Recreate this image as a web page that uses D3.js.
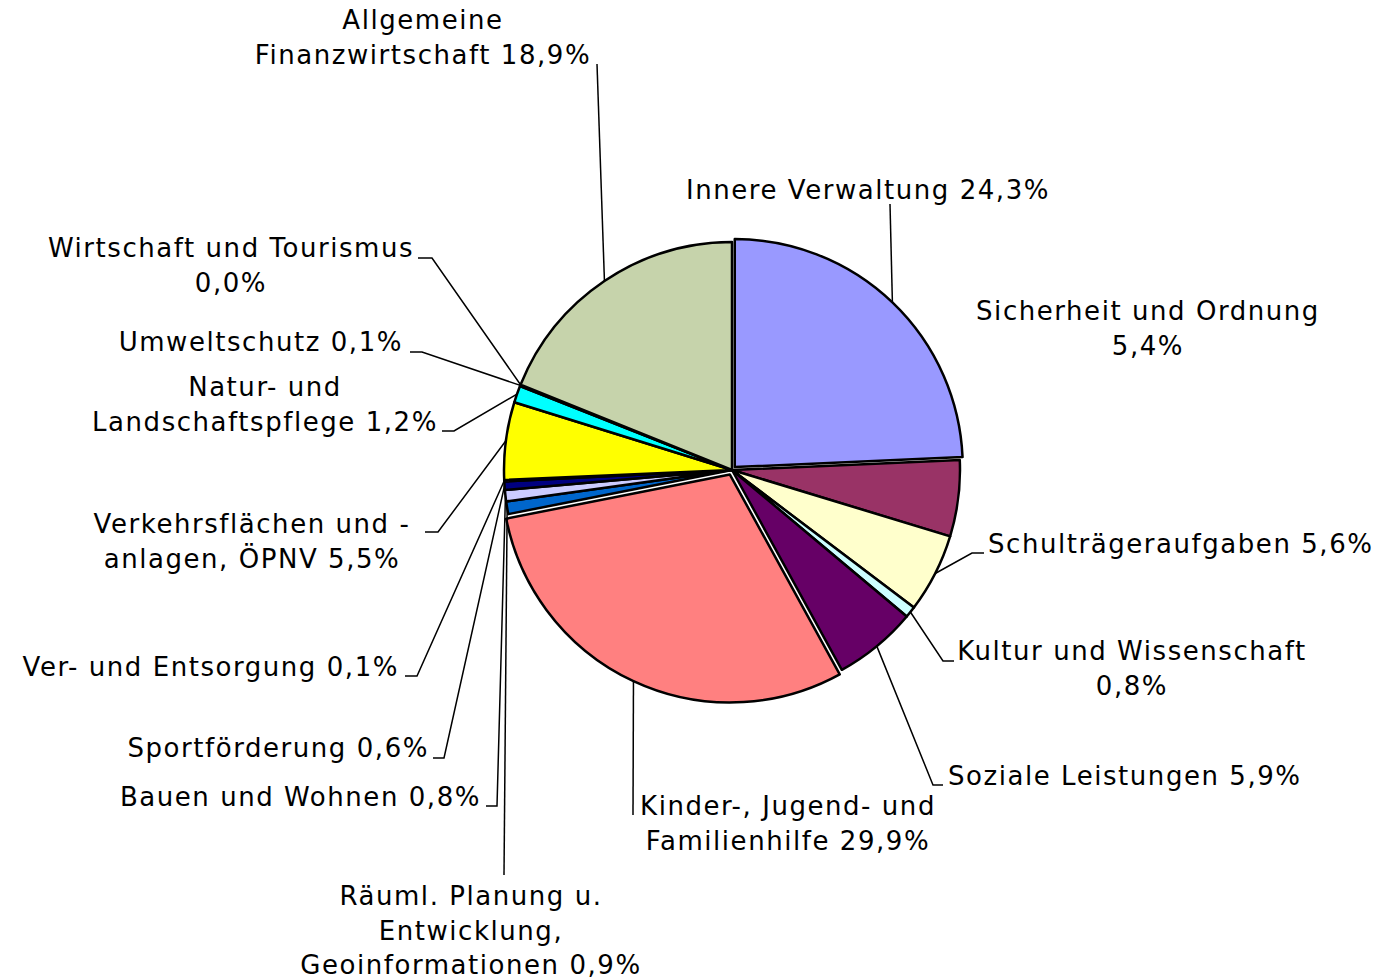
<!DOCTYPE html>
<html>
<head>
<meta charset="utf-8">
<script src="https://cdn.jsdelivr.net/npm/d3@7"></script>
<style>
  body { margin: 0; background: #fff; }
  svg text { font-family: "DejaVu Sans", Verdana, sans-serif; font-size: 26px; letter-spacing: 1.55px; fill: #000; }
</style>
</head>
<body>
<div id="chart"></div>
<script>
// Anteile der Produktbereiche (in %), im Uhrzeigersinn ab 12 Uhr
const categories = [
  "Innere Verwaltung",
  "Sicherheit und Ordnung",
  "Schulträgeraufgaben",
  "Kultur und Wissenschaft",
  "Soziale Leistungen",
  "Kinder-, Jugend- und Familienhilfe",
  "Räuml. Planung u. Entwicklung, Geoinformationen",
  "Bauen und Wohnen",
  "Sportförderung",
  "Ver- und Entsorgung",
  "Verkehrsflächen und -anlagen, ÖPNV",
  "Natur- und Landschaftspflege",
  "Umweltschutz",
  "Wirtschaft und Tourismus",
  "Allgemeine Finanzwirtschaft"
];
const values = [24.3, 5.4, 5.6, 0.8, 5.9, 29.9, 0.9, 0.8, 0.6, 0.1, 5.5, 1.2, 0.1, 0.0, 18.9];

// label text lines (last line carries the value)
const labelLines = [
  ["Innere Verwaltung 24,3%"],
  ["Sicherheit und Ordnung", "5,4%"],
  ["Schulträgeraufgaben 5,6%"],
  ["Kultur und Wissenschaft", "0,8%"],
  ["Soziale Leistungen 5,9%"],
  ["Kinder-, Jugend- und", "Familienhilfe 29,9%"],
  ["Räuml. Planung u.", "Entwicklung,", "Geoinformationen 0,9%"],
  ["Bauen und Wohnen 0,8%"],
  ["Sportförderung 0,6%"],
  ["Ver- und Entsorgung 0,1%"],
  ["Verkehrsflächen und -", "anlagen, ÖPNV 5,5%"],
  ["Natur- und", "Landschaftspflege 1,2%"],
  ["Umweltschutz 0,1%"],
  ["Wirtschaft und Tourismus", "0,0%"],
  ["Allgemeine", "Finanzwirtschaft 18,9%"]
];

const colors = ["#9999FF", "#993366", "#FFFFCC", "#CCFFFF", "#660066", "#FF8080",
  "#0066CC", "#CCCCFF", "#000080", "#FF00FF", "#FFFF00", "#00FFFF",
  "#800080", "#800000", "#C6D3AB"];

// --- layout ---
const width = 1375, height = 980;
const cx = 732, cy = 470, radius = 228;
const exploded = { "Innere Verwaltung": 4, "Kinder-, Jugend- und Familienhilfe": 5 };

// label placement: x, first baseline, anchor, leader start + optional elbow
const labelPos = [
  { x: 868, y: 199, anchor: "middle", lead: [[890, 204]] },
  { x: 1148, y: 320, anchor: "middle", lead: null },
  { x: 988, y: 553, anchor: "start", lead: [[984, 553], [972, 553]] },
  { x: 1132, y: 660, anchor: "middle", lead: [[954, 661], [943, 661]] },
  { x: 948, y: 785, anchor: "start", lead: [[943, 785], [933, 785]] },
  { x: 788, y: 815, anchor: "middle", lead: [[633, 815]] },
  { x: 471, y: 905, anchor: "middle", lead: [[504, 875]] },
  { x: 481, y: 806, anchor: "end", lead: [[486, 806], [497, 806]] },
  { x: 429, y: 757, anchor: "end", lead: [[433, 758], [444, 758]] },
  { x: 399, y: 676, anchor: "end", lead: [[405, 676], [417, 676]] },
  { x: 252, y: 533, anchor: "middle", lead: [[425, 532], [438, 532]] },
  { x: 265, y: 396, anchor: "middle", lead: [[442, 431], [454, 431]] },
  { x: 403, y: 351, anchor: "end", lead: [[410, 352], [422, 352]] },
  { x: 231, y: 257, anchor: "middle", lead: [[418, 258], [432, 258]] },
  { x: 423, y: 29, anchor: "middle", lead: [[597, 64]] }
];
const lineHeight = 34.5;

const data = categories.map((c, i) => ({ name: c, value: values[i], i }));

const svg = d3.select("#chart").append("svg")
  .attr("width", width)
  .attr("height", height);

const pie = d3.pie().sort(null).value(d => d.value).startAngle(0).endAngle(2 * Math.PI);
const arcs = pie(data);

const arc = d3.arc().innerRadius(0).outerRadius(radius);
const edge = d3.arc().innerRadius(radius).outerRadius(radius);

function offset(d) {
  const k = exploded[d.data.name] || 0;
  const a = (d.startAngle + d.endAngle) / 2;
  return [k * Math.sin(a), -k * Math.cos(a)];
}

const g = svg.append("g").attr("transform", `translate(${cx},${cy})`);

g.selectAll("path.slice")
  .data(arcs)
  .join("path")
  .attr("class", "slice")
  .attr("transform", d => `translate(${offset(d)})`)
  .attr("d", arc)
  .attr("fill", d => colors[d.data.i])
  .attr("stroke", "#000")
  .attr("stroke-width", 2.5)
  .attr("stroke-linejoin", "round");

// leader lines
const line = d3.line();
arcs.forEach((d, i) => {
  const p = labelPos[i];
  if (!p.lead) return;
  const c = edge.centroid(d);
  const o = offset(d);
  const end = [cx + c[0] + o[0], cy + c[1] + o[1]];
  svg.append("path")
    .attr("d", line([...p.lead, end]))
    .attr("fill", "none")
    .attr("stroke", "#000")
    .attr("stroke-width", 1.5);
});

// labels
arcs.forEach((d, i) => {
  const p = labelPos[i];
  const t = svg.append("text")
    .attr("text-anchor", p.anchor);
  labelLines[i].forEach((s, j) => {
    t.append("tspan")
      .attr("x", p.x)
      .attr("y", p.y + j * lineHeight)
      .text(s);
  });
});
</script>
</body>
</html>
